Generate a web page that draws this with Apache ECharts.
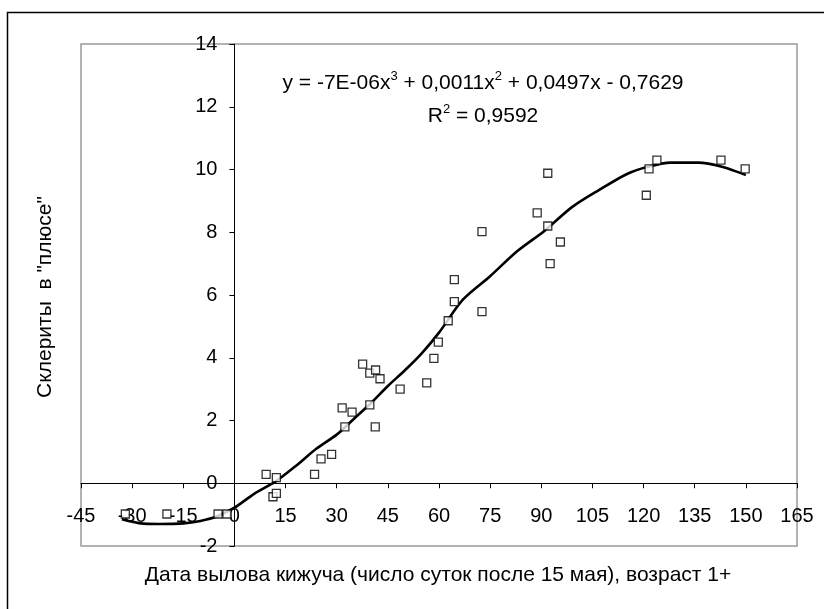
<!DOCTYPE html>
<html>
<head>
<meta charset="utf-8">
<script src="https://cdn.jsdelivr.net/npm/echarts@6/dist/echarts.min.js"></script>
<style>html,body{margin:0;padding:0;background:#fff}#c{width:824px;height:609px}</style>
</head>
<body>
<div id="c"></div>
<script>
// Observed points (day after 15 May, sclerites in "plus")
const pointX = [-32, -19.8, -4.8, -2.2, 9.3, 12.3, 11.3, 12.3, 23.5, 25.4, 28.5, 32.4, 31.6, 34.5, 39.7, 41.3, 37.6, 39.7, 41.4, 42.7, 48.6, 56.4, 58.5, 59.8, 62.7, 64.5, 64.5, 72.6, 72.6, 88.8, 91.9, 95.6, 92.6, 91.9, 120.8, 121.6, 123.9, 142.7, 149.8];
const pointY = [-0.98, -0.98, -0.98, -0.98, 0.28, 0.18, -0.43, -0.32, 0.28, 0.78, 0.92, 1.80, 2.40, 2.27, 2.50, 1.80, 3.80, 3.51, 3.61, 3.33, 3.00, 3.20, 3.98, 4.50, 5.18, 5.79, 6.49, 5.47, 8.02, 8.62, 8.20, 7.69, 7.00, 9.88, 9.18, 10.02, 10.30, 10.30, 10.02];
// Trend line as drawn in the picture
const trendX = [-33, -28, -22, -15, -10, -5, 0, 6, 12, 18, 24, 30, 35, 40, 45, 50, 55, 60, 67, 75, 83, 91, 99, 107, 115, 121, 128, 136, 143, 150];
const trendY = [-1.15, -1.27, -1.30, -1.28, -1.20, -1.05, -0.78, -0.32, 0.05, 0.55, 1.10, 1.55, 2.05, 2.55, 3.10, 3.60, 4.15, 4.80, 5.85, 6.60, 7.40, 8.05, 8.80, 9.35, 9.85, 10.08, 10.22, 10.22, 10.09, 9.82];
const xTicks = {min: -45, max: 165, interval: 15};
const yTicks = {min: -2, max: 14, interval: 2};
const xTitle = 'Дата вылова кижуча (число суток после 15 мая), возраст 1+';
const yTitle = 'Склериты  в "плюсе"';
const eqText = 'y = -7E-06x{s|3} + 0,0011x{s|2} + 0,0497x - 0,7629';
const r2Text = 'R{s|2} = 0,9592';

const FONT = '"Liberation Sans", Arial, sans-serif';
const chart = echarts.init(document.getElementById('c'), null, {renderer: 'canvas'});
const option = {
  animation: false,
  backgroundColor: '#fff',
  grid: {left: 81, right: 27, top: 44, bottom: 63, show: true, borderColor: '#999', borderWidth: 1.5, backgroundColor: 'transparent'},
  xAxis: {
    type: 'value', min: xTicks.min, max: xTicks.max, interval: xTicks.interval,
    axisLine: {onZero: false, lineStyle: {color: '#000', width: 1}},
    axisTick: {show: true, inside: false, length: 5, lineStyle: {color: '#000'}},
    axisLabel: {margin: 23, color: '#000', fontSize: 20, fontFamily: FONT, showMinLabel: true, showMaxLabel: true},
    splitLine: {show: false}
  },
  yAxis: {
    type: 'value', min: yTicks.min, max: yTicks.max, interval: yTicks.interval,
    axisLine: {onZero: false, lineStyle: {color: '#000', width: 1}},
    axisTick: {show: true, inside: false, length: 5, lineStyle: {color: '#000'}},
    axisLabel: {margin: 17, color: '#000', fontSize: 20, fontFamily: FONT, showMinLabel: true, showMaxLabel: true},
    splitLine: {show: false}
  },
  series: [
    {
      type: 'line', smooth: 0.3, symbol: 'none', z: 2,
      lineStyle: {color: '#000', width: 2.6},
      data: trendX.map((x, i) => [x, trendY[i]])
    },
    {
      type: 'scatter', symbol: 'rect', symbolSize: 8, z: 3,
      itemStyle: {color: '#fff', borderColor: '#000', borderWidth: 1.3},
      data: pointX.map((x, i) => [x, pointY[i]])
    }
  ],
  graphic: [
    {type: 'rect', silent: true, z: 100, shape: {x: 7.5, y: 12.5, width: 840, height: 640}, style: {fill: 'none', stroke: '#000', lineWidth: 1.5}},
    {type: 'text', z: 100, x: 483, y: 83, style: {
      text: eqText,
      rich: {s: {fontSize: 13, fontFamily: FONT, fill: '#000', padding: [0, 0, 13, 0]}},
      font: '21px ' + FONT, fill: '#000', align: 'center', verticalAlign: 'middle'}},
    {type: 'text', z: 100, x: 483, y: 116, style: {
      text: r2Text,
      rich: {s: {fontSize: 13, fontFamily: FONT, fill: '#000', padding: [0, 0, 13, 0]}},
      font: '21px ' + FONT, fill: '#000', align: 'center', verticalAlign: 'middle'}},
    {type: 'text', z: 100, x: 438, y: 575, style: {text: xTitle, font: '21px ' + FONT, fill: '#000', align: 'center', verticalAlign: 'middle'}},
    {type: 'text', z: 100, x: 45, y: 297, rotation: Math.PI / 2, style: {text: yTitle, font: '21px ' + FONT, fill: '#000', align: 'center', verticalAlign: 'middle'}}
  ]
};
chart.setOption(option);
// Move the axes so they cross at zero (position taken from the library's own scales)
const pZero = chart.convertToPixel({gridIndex: 0}, [0, 0]);
const pMin = chart.convertToPixel({gridIndex: 0}, [xTicks.min, yTicks.min]);
chart.setOption({
  xAxis: {offset: pZero[1] - pMin[1]},
  yAxis: {offset: pMin[0] - pZero[0]}
});
</script>
</body>
</html>
